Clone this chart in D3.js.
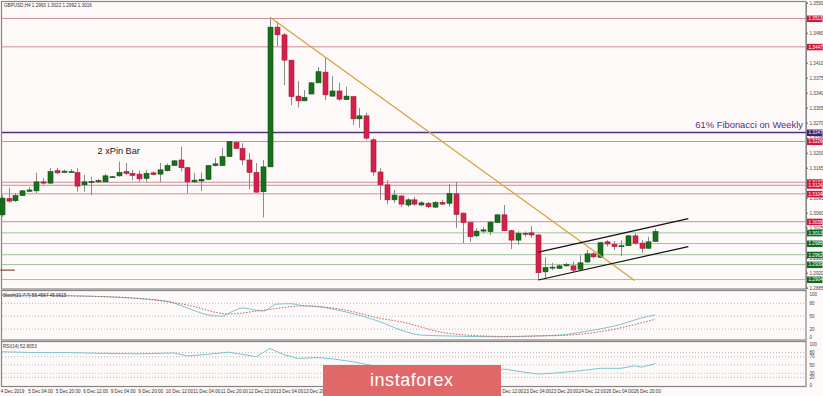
<!DOCTYPE html>
<html>
<head>
<meta charset="utf-8">
<script src="https://d3js.org/d3.v7.min.js"></script>
<style>
    body { margin: 0; background: #fdf9f8; }
    svg text { font-family: "Liberation Sans", Arial, sans-serif; }
</style>
</head>
<body>
<div id="chart"></div>
<script>
// H4 candles, 4 Dec 12:00 .. 27 Dec 08:00
var opens = [1.3055,1.3093,1.3088,1.3100,1.3110,1.3111,1.3132,1.3129,1.3158,1.3154,1.3156,1.3154,1.3125,1.3132,1.3132,1.3132,1.3144,1.3146,1.3156,1.3152,
    1.3150,1.3140,1.3153,1.3150,1.3158,1.3170,1.3183,1.3165,1.3132,1.3134,1.3138,1.3170,1.3170,1.3191,1.3224,1.3210,1.3183,1.3154,1.3109,1.3167,
    1.3493,1.3475,1.3416,1.3332,1.3321,1.3337,1.3363,1.3388,1.3332,1.3344,1.3324,1.3331,1.3279,1.3286,1.3230,1.3155,1.3125,1.3090,1.3099,1.3078,
    1.3090,1.3078,1.3082,1.3073,1.3084,1.3082,1.3104,1.3059,1.3037,1.3006,1.3017,1.3016,1.3037,1.3055,1.3018,1.2996,1.3012,1.3013,1.3008,1.2922,
    1.2933,1.2930,1.2936,1.2936,1.2928,1.2945,1.2964,1.2956,1.2992,1.2986,1.2983,1.2983,1.3006,1.2989,1.2977,1.2993];
var highs = [1.3101,1.3118,1.3106,1.3113,1.3120,1.3153,1.3141,1.3164,1.3164,1.3160,1.3162,1.3164,1.3148,1.3144,1.3139,1.3150,1.3146,1.3179,1.3176,1.3160,
    1.3158,1.3160,1.3156,1.3176,1.3175,1.3183,1.3214,1.3167,1.3153,1.3154,1.3171,1.3188,1.3211,1.3227,1.3226,1.3222,1.3199,1.3176,1.3183,1.3516,
    1.3506,1.3479,1.3416,1.3367,1.3346,1.3365,1.3400,1.3422,1.3379,1.3363,1.3354,1.3332,1.3304,1.3293,1.3234,1.3164,1.3136,1.3113,1.3101,1.3094,
    1.3097,1.3087,1.3085,1.3087,1.3090,1.3127,1.3132,1.3060,1.3038,1.3024,1.3026,1.3041,1.3057,1.3078,1.3020,1.3016,1.3016,1.3029,1.3010,1.2956,
    1.2943,1.2940,1.2943,1.2946,1.2961,1.2973,1.2968,1.2992,1.2996,1.2994,1.2996,1.3008,1.3012,1.2996,1.3004,1.3022];
var lows = [1.3050,1.3083,1.3085,1.3099,1.3108,1.3106,1.3125,1.3127,1.3150,1.3153,1.3153,1.3109,1.3109,1.3101,1.3132,1.3131,1.3143,1.3144,1.3148,1.3136,
    1.3132,1.3132,1.3147,1.3132,1.3156,1.3169,1.3156,1.3105,1.3129,1.3111,1.3136,1.3168,1.3169,1.3190,1.3209,1.3171,1.3115,1.3107,1.3049,1.3167,
    1.3449,1.3358,1.3311,1.3306,1.3321,1.3336,1.3363,1.3323,1.3331,1.3321,1.3323,1.3265,1.3258,1.3229,1.3146,1.3090,1.3080,1.3083,1.3073,1.3073,
    1.3076,1.3076,1.3071,1.3071,1.3078,1.3074,1.3024,1.2989,1.2992,1.3003,1.3012,1.3008,1.3036,1.3017,1.2975,1.2985,1.3004,1.3001,1.2903,1.2905,
    1.2926,1.2929,1.2934,1.2922,1.2926,1.2943,1.2954,1.2954,1.2981,1.2973,1.2959,1.2982,1.2985,1.2966,1.2977,1.2992];
var closes = [1.3094,1.3087,1.3100,1.3111,1.3113,1.3132,1.3129,1.3156,1.3153,1.3157,1.3156,1.3122,1.3132,1.3133,1.3135,1.3146,1.3144,1.3154,1.3152,1.3147,
    1.3139,1.3152,1.3149,1.3160,1.3170,1.3181,1.3165,1.3132,1.3136,1.3138,1.3170,1.3174,1.3191,1.3226,1.3210,1.3183,1.3154,1.3108,1.3167,1.3493,
    1.3475,1.3416,1.3331,1.3321,1.3329,1.3363,1.3389,1.3335,1.3344,1.3325,1.3332,1.3279,1.3286,1.3234,1.3155,1.3125,1.3090,1.3101,1.3080,1.3090,
    1.3080,1.3083,1.3074,1.3084,1.3080,1.3105,1.3056,1.3037,1.3004,1.3017,1.3020,1.3038,1.3055,1.3018,1.2996,1.3012,1.3011,1.3008,1.2920,1.2932,
    1.2933,1.2936,1.2939,1.2926,1.2943,1.2964,1.2957,1.2990,1.2987,1.2981,1.2983,1.3006,1.2989,1.2977,1.2992,1.3016];

// one time label every 4 bars
var timeLabels = ["4 Dec 2019","5 Dec 04:00","5 Dec 20:00","6 Dec 12:00","9 Dec 04:00","9 Dec 20:00","10 Dec 12:00","11 Dec 04:00",
    "11 Dec 20:00","12 Dec 12:00","13 Dec 04:00","13 Dec 20:00","16 Dec 12:00","17 Dec 04:00","17 Dec 20:00","18 Dec 12:00",
    "19 Dec 04:00","19 Dec 20:00","20 Dec 12:00","23 Dec 04:00","23 Dec 20:00","24 Dec 12:00","26 Dec 04:00","26 Dec 20:00"];

var priceTicks = [1.3550,1.3515,1.3480,1.3445,1.3410,1.3375,1.3340,1.3305,1.3270,1.3235,1.3200,1.3165,1.3130,1.3095,1.3060,1.3025,1.2990,1.2955,1.2920,1.2885];
var resistLevels = [1.3513,1.3447,1.3226,1.3131,1.3124,1.3104,1.3039];
var supportLevels = [1.3013,1.2988,1.2962,1.2939,1.2904];
var fibLevel = 1.3247;

// trend line, channel and the short mark at the left edge: [bar, price]
var trendLine = [[39, 1.3516], [92, 1.2902]];
var channelUpper = [[78, 1.2968], [99.8, 1.3046]];
var channelLower = [[78, 1.2903], [99.8, 1.2981]];
var leftMark = [[-0.2, 1.2926], [1.9, 1.2926]];

// stochastic (21,7,7)
var stochBars = [0,8,19,24,27,30,32,33,35,37,38,40,42,44,46,50,55,58,61,65,73,77,81,85,90,93,95];
var stochMain = [99,98,92,85,69,53,50,57,69,64,62,78,79,74,72,60,37,18,6,4,2,4,6,15,31,46,53];
var signalBars = [0,16,27,33,38,44,50,55,58,65,73,81,87,95];
var stochSignal = [99,95,76,55,64,74,64,45,37,10,3,5,14,43];

// RSI(14)
var rsiBars = [0,5,10,15,20,25,27,30,33,37,39,41,43,46,48,51,55,60,66,70,73,78,80,84,87,90,92,93,95];
var rsiValues = [82,80,80,78,77,79,72,76,81,70,90,75,66,68,65,58,45,40,42,35,40,28,30,36,42,42,48,45,53];

var stochLevels = [80, 50, 20], stochTicks = [100, 80, 50, 20, 0];
var rsiLevels = [80, 70, 50, 30, 20], rsiTicks = [100, 80, 70, 50, 30, 20, 0];

var small = 4.6;

var svg = d3.select("#chart").append("svg")
    .attr("width", 823)
    .attr("height", 396);

svg.append("rect").attr("width", 823).attr("height", 396).attr("fill", "#fdf9f8");

var axisX = 806;
var x = d3.scaleLinear().domain([0, 95]).range([1.7, 655.3]);
var y = d3.scaleLinear().domain([1.2885, 1.3550]).range([287.7, 2.7]);
var yS = d3.scaleLinear().domain([0, 100]).range([337.7, 294.7]);
var yR = d3.scaleLinear().domain([0, 100]).range([385.7, 344.3]);

// panel frames
var panels = [[1.5, 289], [290.5, 340], [341.5, 386.5]];
panels.forEach(function (p) {
    svg.append("rect")
        .attr("x", 1.5).attr("y", p[0])
        .attr("width", axisX - 1.5).attr("height", p[1] - p[0])
        .attr("fill", "none").attr("stroke", "#858585").attr("stroke-width", 1.2);
});

// horizontal levels
svg.selectAll(".res").data(resistLevels).enter().append("line")
    .attr("x1", 2).attr("x2", axisX)
    .attr("y1", function (d) { return y(d); }).attr("y2", function (d) { return y(d); })
    .attr("stroke", "#cc8e98").attr("stroke-width", 1);
svg.selectAll(".sup").data(supportLevels).enter().append("line")
    .attr("x1", 2).attr("x2", axisX)
    .attr("y1", function (d) { return y(d); }).attr("y2", function (d) { return y(d); })
    .attr("stroke", "#9cc49c").attr("stroke-width", 1);
svg.append("line")
    .attr("x1", 2).attr("x2", axisX)
    .attr("y1", y(fibLevel)).attr("y2", y(fibLevel))
    .attr("stroke", "#55307f").attr("stroke-width", 1.5);

svg.append("text")
    .attr("x", 803).attr("y", y(fibLevel) - 5)
    .attr("text-anchor", "end")
    .attr("font-size", 9.4)
    .attr("fill", "#55307f")
    .text("61% Fibonacci on Weekly");

svg.append("text")
    .attr("x", 97.5).attr("y", 154)
    .attr("font-size", 9.2)
    .attr("fill", "#222")
    .text("2 xPin Bar");

// candles
var idx = d3.range(opens.length);
svg.selectAll(".wick").data(idx).enter().append("line")
    .attr("x1", function (i) { return Math.round(x(i)) + 0.5; })
    .attr("x2", function (i) { return Math.round(x(i)) + 0.5; })
    .attr("y1", function (i) { return y(highs[i]); })
    .attr("y2", function (i) { return y(lows[i]); })
    .attr("stroke", "#8a8a8a").attr("stroke-width", 1);

svg.selectAll(".body").data(idx).enter().append("rect")
    .attr("x", function (i) { return Math.round(x(i)) - 2; })
    .attr("width", 5)
    .attr("y", function (i) { return y(Math.max(opens[i], closes[i])); })
    .attr("height", function (i) { return Math.max(1, Math.abs(y(opens[i]) - y(closes[i]))); })
    .attr("fill", function (i) { return closes[i] >= opens[i] ? "#17701b" : "#d4204a"; })
    .attr("stroke", function (i) { return closes[i] >= opens[i] ? "#0f5212" : "#a8183a"; })
    .attr("stroke-width", 0.6);

// trend line and channel
var seg = d3.line().x(function (d) { return x(d[0]); }).y(function (d) { return y(d[1]); });
svg.append("path").attr("d", seg(trendLine)).attr("stroke", "#d9a03c").attr("stroke-width", 1.2).attr("fill", "none");
svg.append("path").attr("d", seg(channelUpper)).attr("stroke", "#111").attr("stroke-width", 1.2).attr("fill", "none");
svg.append("path").attr("d", seg(channelLower)).attr("stroke", "#111").attr("stroke-width", 1.2).attr("fill", "none");
svg.append("path").attr("d", seg(leftMark)).attr("stroke", "#7a4848").attr("stroke-width", 1.2).attr("fill", "none");

// price axis
var yAxis = svg.append("g")
    .attr("transform", "translate(" + axisX + ",0)")
    .call(d3.axisRight(y).tickValues(priceTicks).tickSize(2).tickFormat(d3.format(".4f")));
yAxis.select(".domain").attr("stroke", "#858585");
yAxis.selectAll("line").attr("stroke", "#666");
yAxis.selectAll("text").attr("font-size", small).attr("fill", "#444").attr("x", 3.5)
    .attr("font-family", "Liberation Sans, Arial, sans-serif");

// price tags on the axis
function tag(level, color) {
    svg.append("rect").attr("x", axisX + 1).attr("y", y(level) - 3)
        .attr("width", 15.5).attr("height", 6.5).attr("fill", color);
    svg.append("text").attr("x", axisX + 2.5).attr("y", y(level) + 1.8)
        .attr("font-size", small).attr("fill", "#fff").text(level.toFixed(4));
}
resistLevels.forEach(function (d) { tag(d, "#d3163f"); });
supportLevels.forEach(function (d) { tag(d, "#0f6b22"); });
tag(fibLevel, "#3c1f78");

// stochastic panel
svg.selectAll(".sl").data(stochLevels).enter().append("line")
    .attr("x1", 2).attr("x2", axisX)
    .attr("y1", function (d) { return yS(d); }).attr("y2", function (d) { return yS(d); })
    .attr("stroke", "#bbb").attr("stroke-dasharray", "1,2");
var sMain = stochBars.map(function (b, i) { return [b, stochMain[i]]; });
var sSig = signalBars.map(function (b, i) { return [b, stochSignal[i]]; });
var lineS = d3.line().x(function (d) { return x(d[0]); }).y(function (d) { return yS(d[1]); }).curve(d3.curveMonotoneX);
svg.append("path").attr("d", lineS(sMain)).attr("stroke", "#7ec4cc").attr("stroke-width", 1).attr("fill", "none");
svg.append("path").attr("d", lineS(sSig)).attr("stroke", "#c0605a").attr("stroke-width", 1)
    .attr("stroke-dasharray", "1.5,1.5").attr("fill", "none");
svg.append("text").attr("x", 3).attr("y", 297).attr("font-size", small).attr("fill", "#333")
    .text("Stoch(21,7,7) 55.4567 45.9615");
svg.selectAll(".st").data(stochTicks).enter().append("text")
    .attr("x", axisX + 3.5).attr("y", function (d) { return yS(d) + 1.6; })
    .attr("font-size", small).attr("fill", "#444").text(function (d) { return d; });

// RSI panel
svg.selectAll(".rl").data(rsiLevels).enter().append("line")
    .attr("x1", 2).attr("x2", axisX)
    .attr("y1", function (d) { return yR(d); }).attr("y2", function (d) { return yR(d); })
    .attr("stroke", "#bbb").attr("stroke-dasharray", "1,2");
var rPts = rsiBars.map(function (b, i) { return [b, rsiValues[i]]; });
var lineR = d3.line().x(function (d) { return x(d[0]); }).y(function (d) { return yR(d[1]); });
svg.append("path").attr("d", lineR(rPts)).attr("stroke", "#7ec4cc").attr("stroke-width", 1).attr("fill", "none");
svg.append("text").attr("x", 3).attr("y", 347.5).attr("font-size", small).attr("fill", "#333")
    .text("RSI(14) 52.8053");
svg.selectAll(".rt").data(rsiTicks).enter().append("text")
    .attr("x", axisX + 3.5).attr("y", function (d) { return yR(d) + 1.6; })
    .attr("font-size", small).attr("fill", "#444").text(function (d) { return d; });

// time axis
svg.selectAll(".tl").data(timeLabels).enter().append("text")
    .attr("x", function (d, i) { return x(i * 4) - 1; })
    .attr("y", 392.5)
    .attr("font-size", small).attr("fill", "#333")
    .text(function (d) { return d; });

// header
svg.append("text").attr("x", 4).attr("y", 7).attr("font-size", small).attr("fill", "#333")
    .text("GBPUSD,H4  1.2993 1.3022 1.2992 1.3016");

// watermark
svg.append("rect").attr("x", 323).attr("y", 365).attr("width", 178).attr("height", 40).attr("fill", "#e06868");
svg.append("text").attr("x", 411.5).attr("y", 385.5).attr("text-anchor", "middle")
    .attr("font-size", 18).attr("fill", "#fff")
    .attr("font-family", "Open Sans, Lato, sans-serif")
    .attr("textLength", 83)
    .text("instaforex");
</script>
</body>
</html>
